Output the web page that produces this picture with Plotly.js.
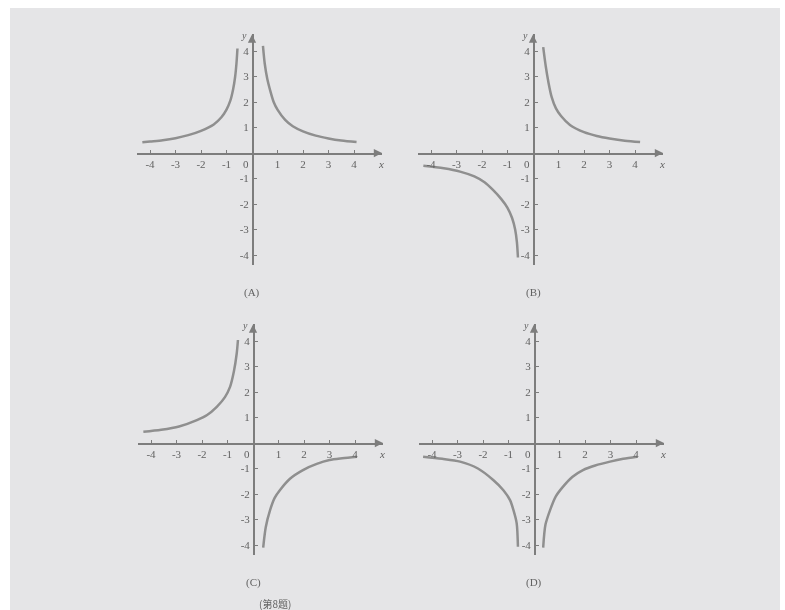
<!DOCTYPE html>
<html>
<head>
<meta charset="utf-8">
<script src="https://cdn.plot.ly/plotly-3.0.1.min.js"></script>
<style>
    html, body { margin: 0; padding: 0; background: #ffffff; }
    #chart { position: absolute; left: 10px; top: 8px; width: 770px; height: 602px; filter: blur(0.4px); }
</style>
</head>
<body>
<div id="chart"></div>
<script>
(function() {
    'use strict';

    // values
    var aLeftX  = [-4.3, -4, -3.5, -3, -2.5, -2, -1.5, -1.2, -1, -0.85, -0.74, -0.66, -0.61, -0.57];
    var aLeftY  = [0.42, 0.45, 0.5, 0.58, 0.7, 0.87, 1.12, 1.4, 1.7, 2.05, 2.5, 3.0, 3.5, 4.1];
    var aRightX = [0.43, 0.5, 0.6, 0.7, 0.85, 1, 1.3, 1.6, 2, 2.5, 3, 3.5, 4.1];
    var aRightY = [4.2, 3.5, 2.9, 2.5, 2.0, 1.7, 1.3, 1.05, 0.85, 0.68, 0.57, 0.49, 0.43];

    var bLeftX  = [-4.3, -3.5, -2.86, -2.3, -1.9, -1.57, -1.25, -1.0, -0.82, -0.7, -0.63, -0.59];
    var bLeftY  = [-0.5, -0.6, -0.73, -0.92, -1.15, -1.45, -1.8, -2.15, -2.55, -3.0, -3.5, -4.1];
    var bRightX = [0.4, 0.5, 0.6, 0.73, 0.9, 1.1, 1.45, 2, 2.5, 3, 3.6, 4.2];
    var bRightY = [4.15, 3.4, 2.8, 2.2, 1.75, 1.45, 1.1, 0.82, 0.67, 0.57, 0.48, 0.43];

    var cLeftX  = [-4.3, -3.6, -2.9, -2.2, -1.8, -1.42, -1.1, -0.9, -0.75, -0.64, -0.59];
    var cLeftY  = [0.44, 0.52, 0.65, 0.9, 1.1, 1.42, 1.8, 2.2, 2.8, 3.5, 4.04];
    var cRightX = [0.4, 0.5, 0.67, 0.85, 1.06, 1.45, 1.96, 2.5, 3.0, 3.5, 4.08];
    var cRightY = [-4.1, -3.3, -2.63, -2.15, -1.84, -1.4, -1.06, -0.82, -0.67, -0.6, -0.54];

    var dLeftX  = [-4.35, -3.6, -2.9, -2.2, -1.6, -1.2, -0.94, -0.8, -0.68, -0.63];
    var dLeftY  = [-0.54, -0.62, -0.73, -1.0, -1.45, -1.85, -2.24, -2.65, -3.14, -4.07];
    var dRightX = [0.36, 0.45, 0.63, 0.85, 1.14, 1.5, 1.92, 2.4, 2.98, 3.5, 4.04];
    var dRightY = [-4.1, -3.2, -2.63, -2.1, -1.71, -1.33, -1.06, -0.88, -0.73, -0.62, -0.54];

    var xTickVals = [-4, -3, -2, -1, 1, 2, 3, 4];
    var xTickText = ['-4', '-3', '-2', '-1', '1', '2', '3', '4'];
    var yTickVals = [-4, -3, -2, -1, 1, 2, 3, 4];
    var yTickText = ['-4', '-3', '-2', '-1', '1', '2', '3', '4'];

    var panelNames = ['(A)', '(B)', '(C)', '(D)'];
    var caption = '(第8题)';

    // Layout geometry (pixels inside the chart div)
    var W = 770, H = 602;
    var scale = 25.5;
    var xRange = [-4.5, 5.1];
    var yRange = [-4.4, 4.65];
    var origins = [[242, 145], [523, 145], [243, 435], [524, 435]];

    var curveColor = '#8f8f8f';
    var axisColor = '#7d7d7d';
    var textColor = '#626262';
    var tickFont = { family: 'Liberation Serif, DejaVu Serif, serif', size: 11, color: textColor };

    var curves = [
        [[aLeftX, aLeftY], [aRightX, aRightY]],
        [[bLeftX, bLeftY], [bRightX, bRightY]],
        [[cLeftX, cLeftY], [cRightX, cRightY]],
        [[dLeftX, dLeftY], [dRightX, dRightY]]
    ];

    var data = [];
    var layout = {
        width: W,
        height: H,
        margin: { l: 0, r: 0, t: 0, b: 0 },
        paper_bgcolor: '#e5e5e7',
        plot_bgcolor: 'rgba(0,0,0,0)',
        showlegend: false,
        annotations: []
    };

    origins.forEach(function(o, i) {
        var n = i === 0 ? '' : String(i + 1);
        var xa = 'x' + n, ya = 'y' + n;

        curves[i].forEach(function(c) {
            data.push({
                x: c[0],
                y: c[1],
                xaxis: xa,
                yaxis: ya,
                type: 'scatter',
                mode: 'lines',
                line: { color: curveColor, width: 2.5, shape: 'spline', smoothing: 0.8 },
                hoverinfo: 'skip'
            });
        });

        layout['xaxis' + n] = {
            range: xRange,
            domain: [(o[0] + xRange[0] * scale) / W, (o[0] + xRange[1] * scale) / W],
            anchor: 'free',
            position: 1 - o[1] / H,
            showline: true,
            linecolor: axisColor,
            linewidth: 1.5,
            showgrid: false,
            zeroline: false,
            ticks: 'inside',
            ticklen: 3,
            tickcolor: axisColor,
            tickvals: xTickVals,
            ticktext: xTickText,
            tickfont: tickFont,
            fixedrange: true
        };
        layout['yaxis' + n] = {
            range: yRange,
            domain: [1 - (o[1] - yRange[0] * scale) / H, 1 - (o[1] - yRange[1] * scale) / H],
            anchor: 'free',
            position: o[0] / W,
            showline: true,
            linecolor: axisColor,
            linewidth: 1.5,
            showgrid: false,
            zeroline: false,
            ticks: 'inside',
            ticklen: 3,
            tickcolor: axisColor,
            tickvals: yTickVals,
            ticktext: yTickText,
            tickfont: tickFont,
            ticklabelstandoff: 1,
            fixedrange: true
        };

        // arrow heads
        layout.annotations.push({
            xref: xa, yref: ya, axref: xa, ayref: ya,
            x: xRange[1], y: 0, ax: xRange[1] - 0.3, ay: 0,
            text: '', showarrow: true, arrowhead: 2, arrowsize: 1.1,
            arrowwidth: 1.5, arrowcolor: axisColor
        });
        layout.annotations.push({
            xref: xa, yref: ya, axref: xa, ayref: ya,
            x: 0, y: yRange[1], ax: 0, ay: yRange[1] - 0.3,
            text: '', showarrow: true, arrowhead: 2, arrowsize: 1.1,
            arrowwidth: 1.5, arrowcolor: axisColor
        });
        // axis names and origin
        layout.annotations.push({
            xref: xa, yref: ya, x: xRange[1] - 0.05, y: 0,
            yanchor: 'top', yshift: -3, text: '<i>x</i>',
            showarrow: false, font: tickFont
        });
        layout.annotations.push({
            xref: xa, yref: ya, x: 0, y: yRange[1] - 0.05,
            xanchor: 'right', yanchor: 'middle', xshift: -3, text: '<i>y</i>',
            showarrow: false, font: { family: tickFont.family, size: 10, color: textColor }
        });
        layout.annotations.push({
            xref: xa, yref: ya, x: 0, y: 0,
            xanchor: 'right', yanchor: 'top', xshift: -1, yshift: -3, text: '0',
            showarrow: false, font: tickFont
        });
        // panel name
        layout.annotations.push({
            xref: xa, yref: 'paper', x: 0,
            y: 1 - (o[1] + 139) / H, yanchor: 'middle',
            text: panelNames[i], showarrow: false, font: tickFont
        });
    });

    layout.annotations.push({
        xref: 'paper', yref: 'paper', x: 265 / W, y: 1 - 595 / H,
        yanchor: 'middle', text: caption, showarrow: false,
        font: { family: 'Noto Sans CJK SC, sans-serif', size: 10, color: textColor }
    });

    Plotly.newPlot('chart', data, layout, { displayModeBar: false, staticPlot: true });
})();
</script>
</body>
</html>
